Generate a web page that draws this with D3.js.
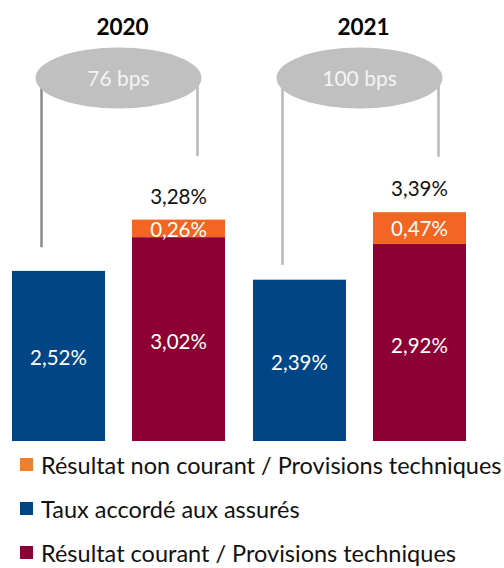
<!DOCTYPE html>
<html>
<head>
<meta charset="utf-8">
<script src="https://cdn.jsdelivr.net/npm/d3@7"></script>
<style>
  body { margin: 0; background: #fff; }
  svg { display: block; font-family: "Lato", "Open Sans", sans-serif; }
</style>
</head>
<body>
<div id="chart"></div>
<script>
// Daten
const years = ["2020", "2021"];
const tauxAssures = [2.52, 2.39];
const resultatCourant = [3.02, 2.92];
const resultatNonCourant = [0.26, 0.47];
const totalLabels = ["3,28%", "3,39%"];
const spreadLabels = ["76 bps", "100 bps"];
const connectorEnds = [[2.87, 4.22], [2.61, 4.21]]; // Ende der Linien (in %)

const legendLabels = [
    "Résultat non courant / Provisions techniques",
    "Taux accordé aux assurés",
    "Résultat courant / Provisions techniques"
];
const colors = { orange: "#f26522", blue: "#004586", crimson: "#8c0034", legendOrange: "#f0802f" };

const fmt = v => v.toFixed(2).replace(".", ",") + "%";

const width = 504, height = 568;

const svg = d3.select("#chart")
    .append("svg")
    .attr("width", width)
    .attr("height", height);

const x0 = d3.scaleBand()
    .domain(years)
    .range([12, 466])
    .paddingInner(0.116);

const x1 = d3.scaleBand()
    .domain(["taux", "resultat"])
    .range([0, x0.bandwidth()])
    .paddingInner(0.225);

const y = d3.scaleLinear()
    .domain([0, 4])
    .range([441, 171]);

const groups = svg.append("g")
    .selectAll("g")
    .data(years)
    .enter()
    .append("g")
    .attr("transform", d => `translate(${x0(d)},0)`);

// Blaue Balken
groups.append("rect")
    .attr("x", x1("taux"))
    .attr("y", (d, i) => y(tauxAssures[i]))
    .attr("width", x1.bandwidth())
    .attr("height", (d, i) => y(0) - y(tauxAssures[i]))
    .attr("fill", colors.blue);

// Gestapelt: Résultat courant + non courant
groups.append("rect")
    .attr("x", x1("resultat"))
    .attr("y", (d, i) => y(resultatCourant[i]))
    .attr("width", x1.bandwidth())
    .attr("height", (d, i) => y(0) - y(resultatCourant[i]))
    .attr("fill", colors.crimson);

groups.append("rect")
    .attr("x", x1("resultat"))
    .attr("y", (d, i) => y(resultatCourant[i] + resultatNonCourant[i]))
    .attr("width", x1.bandwidth())
    .attr("height", (d, i) => y(resultatCourant[i]) - y(resultatCourant[i] + resultatNonCourant[i]))
    .attr("fill", colors.orange);

// Werte in den Balken
const inner = groups.append("g")
    .attr("fill", "#fff")
    .attr("font-size", 20.5)
    .attr("text-anchor", "middle");

inner.append("text")
    .attr("x", x1("taux") + x1.bandwidth() / 2)
    .attr("y", (d, i) => (y(0) + y(tauxAssures[i])) / 2 + 2)
    .attr("dy", "0.35em")
    .text((d, i) => fmt(tauxAssures[i]));

inner.append("text")
    .attr("x", x1("resultat") + x1.bandwidth() / 2)
    .attr("y", (d, i) => (y(0) + y(resultatCourant[i])) / 2 + 3)
    .attr("dy", "0.35em")
    .text((d, i) => fmt(resultatCourant[i]));

inner.append("text")
    .attr("x", x1("resultat") + x1.bandwidth() / 2)
    .attr("y", (d, i) => (y(resultatCourant[i]) + y(resultatCourant[i] + resultatNonCourant[i])) / 2 + 1)
    .attr("dy", "0.35em")
    .text((d, i) => fmt(resultatNonCourant[i]));

// Summe über dem Balken
groups.append("text")
    .attr("x", x1("resultat") + x1.bandwidth() / 2)
    .attr("y", (d, i) => y(resultatCourant[i] + resultatNonCourant[i]) - 23)
    .attr("dy", "0.35em")
    .attr("text-anchor", "middle")
    .attr("font-size", 20.5)
    .attr("fill", "#111")
    .text((d, i) => totalLabels[i]);

// Verbindungslinien und Ellipse
const cx = x0.bandwidth() / 2;
const ellipseY = 78;

groups.append("line")
    .attr("x1", cx - 77).attr("x2", cx - 77)
    .attr("y1", ellipseY).attr("y2", (d, i) => y(connectorEnds[i][0]))
    .attr("stroke", (d, i) => i === 0 ? "#8a8a8a" : "#b8b8b8")
    .attr("stroke-width", 2.5);

groups.append("line")
    .attr("x1", cx + 79).attr("x2", cx + 79)
    .attr("y1", ellipseY).attr("y2", (d, i) => y(connectorEnds[i][1]))
    .attr("stroke", "#b8b8b8")
    .attr("stroke-width", 2.5);

groups.append("ellipse")
    .attr("cx", cx)
    .attr("cy", ellipseY)
    .attr("rx", 83)
    .attr("ry", 30.5)
    .attr("fill", "#c0c0c0");

groups.append("text")
    .attr("x", cx)
    .attr("y", ellipseY + 1)
    .attr("dy", "0.35em")
    .attr("text-anchor", "middle")
    .attr("font-size", 21)
    .attr("fill", "#f4f4f4")
    .text((d, i) => spreadLabels[i]);

// Jahr
groups.append("text")
    .attr("x", cx + 4)
    .attr("y", 27)
    .attr("dy", "0.35em")
    .attr("text-anchor", "middle")
    .attr("font-size", 22.5)
    .attr("font-weight", "bold")
    .attr("fill", "#000")
    .text(d => d);

// Legende
const legendColors = [colors.legendOrange, colors.blue, colors.crimson];
const legend = svg.append("g")
    .selectAll("g")
    .data(legendLabels)
    .enter()
    .append("g")
    .attr("transform", (d, i) => `translate(20,${465 + i * 44})`);

legend.append("rect")
    .attr("x", 0)
    .attr("y", -7)
    .attr("width", 13)
    .attr("height", 13)
    .attr("fill", (d, i) => legendColors[i]);

legend.append("text")
    .attr("x", 21)
    .attr("y", 1)
    .attr("dy", "0.35em")
    .attr("font-size", 23.5)
    .attr("fill", "#111")
    .text(d => d);
</script>
</body>
</html>
